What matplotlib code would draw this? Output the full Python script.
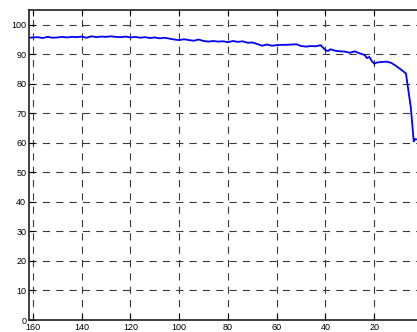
import matplotlib

matplotlib.use("Agg")
import matplotlib.pyplot as plt

# (x runs from high to low)
x_vals = [
    162, 160, 158, 156, 154, 152, 150, 148, 146, 144, 142, 140, 138, 136, 134,
    132, 130, 128, 126, 124, 122, 120, 118, 116, 114, 112, 110, 108, 106, 104,
    102, 100, 98, 96, 94, 92, 90, 88, 86, 84, 82, 80, 78, 76, 74, 72, 70, 68,
    66, 64, 62, 60, 58, 56, 54, 52, 50, 48, 46, 44, 42, 40, 39, 38, 36, 34, 32,
    30, 28, 26, 24, 23, 22, 21, 20, 19, 17, 15, 13, 11, 9, 7, 5, 3.8, 3.2, 2.8,
]
y_vals = [
    95.6, 95.7, 95.8, 95.5, 95.9, 95.6, 95.7, 95.9, 95.7, 95.9, 95.8, 96.0, 95.6,
    96.1, 95.8, 96.0, 95.9, 96.1, 95.9, 95.8, 96.0, 95.7, 95.9, 95.6, 95.8, 95.5,
    95.7, 95.4, 95.6, 95.3, 95.0, 94.8, 95.1, 94.8, 94.6, 95.0, 94.5, 94.3, 94.5,
    94.3, 94.4, 94.1, 94.5, 94.2, 94.4, 93.9, 94.0, 93.5, 92.9, 93.3, 92.9, 93.1,
    93.2, 93.2, 93.3, 93.4, 92.8, 92.6, 92.8, 92.7, 93.1, 91.4, 91.1, 91.7, 91.2,
    91.0, 90.9, 90.5, 91.0, 90.3, 89.8, 88.7, 89.1, 87.7, 86.8, 87.2, 87.4, 87.5,
    87.1, 86.0, 84.8, 83.5, 72.0, 60.5, 61.3, 61.2,
]
x_ticks = [160, 140, 120, 100, 80, 60, 40, 20]
y_ticks = [0, 10, 20, 30, 40, 50, 60, 70, 80, 90, 100]

fig = plt.figure(figsize=(4.17, 3.32), dpi=100)
# the right side of the original axes is cut off by the crop
ax = fig.add_axes([29 / 417, 12 / 332, 394 / 417, 310 / 332])

ax.plot(x_vals, y_vals, color="#0000ff", linewidth=1.3)

ax.set_xlim(161.6, 0)
ax.set_ylim(0, 105)
ax.set_xticks(x_ticks)
ax.set_yticks(y_ticks)
ax.grid(True, color="#3a3a3a", linewidth=0.8, linestyle=(0, (6.5, 5.5)))
ax.tick_params(direction="in", length=4, width=0.8, top=True, right=True,
               labelsize=6.5, pad=2)
for lab in ax.get_xticklabels() + ax.get_yticklabels():
    lab.set_fontfamily("Liberation Sans")
for side in ["left", "bottom", "top", "right"]:
    ax.spines[side].set_linewidth(1.2)
    ax.spines[side].set_color("#202020")

fig.savefig("out.png", dpi=100)
plt.close(fig)
